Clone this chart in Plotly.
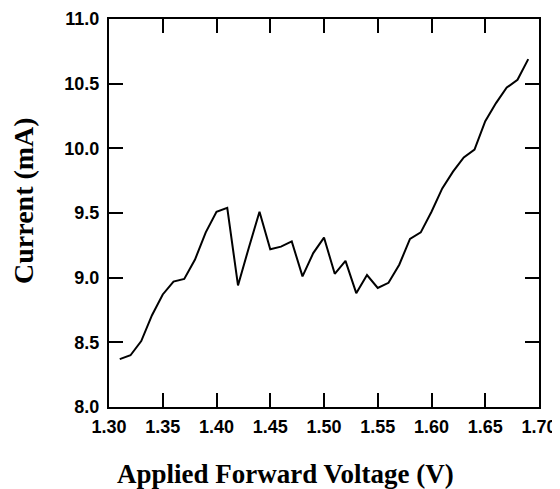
import plotly.graph_objects as go

voltage = [1.31, 1.32, 1.33, 1.34, 1.35, 1.36, 1.37, 1.38, 1.39, 1.40,
           1.41, 1.42, 1.43, 1.44, 1.45, 1.46, 1.47, 1.48, 1.49, 1.50,
           1.51, 1.52, 1.53, 1.54, 1.55, 1.56, 1.57, 1.58, 1.59, 1.60,
           1.61, 1.62, 1.63, 1.64, 1.65, 1.66, 1.67, 1.68, 1.69]
current = [8.37, 8.40, 8.51, 8.71, 8.87, 8.97, 8.99, 9.14, 9.35, 9.51,
           9.54, 8.94, 9.23, 9.51, 9.22, 9.24, 9.28, 9.01, 9.19, 9.31,
           9.03, 9.13, 8.88, 9.02, 8.92, 8.96, 9.10, 9.30, 9.35, 9.51,
           9.69, 9.82, 9.93, 9.99, 10.21, 10.35, 10.47, 10.53, 10.69]

x_ticks = [1.30, 1.35, 1.40, 1.45, 1.50, 1.55, 1.60, 1.65, 1.70]
x_labels = ["1.30", "1.35", "1.40", "1.45", "1.50", "1.55", "1.60", "1.65", "1.70"]
y_ticks = [8.0, 8.5, 9.0, 9.5, 10.0, 10.5, 11.0]
y_labels = ["8.0", "8.5", "9.0", "9.5", "10.0", "10.5", "11.0"]

# the page body has an 8px margin, so the figure is sized/placed accordingly
fig = go.Figure()
fig.add_trace(go.Scatter(x=voltage, y=current, mode="lines",
                         line=dict(color="black", width=2), showlegend=False))

tickfont = dict(family="Arial, Liberation Sans, sans-serif", size=18, color="black")
axis_common = dict(showgrid=False, zeroline=False, showline=True, linecolor="black",
                   linewidth=2, mirror="ticks", ticks="inside", ticklen=14, tickwidth=2,
                   tickcolor="black", tickfont=tickfont)

fig.update_xaxes(range=[1.30, 1.70], tickvals=x_ticks,
                 ticktext=["<b>%s</b>" % t for t in x_labels],
                 ticklabelstandoff=2, **axis_common)
fig.update_yaxes(range=[8.0, 11.0], tickvals=y_ticks,
                 ticktext=["<b>%s</b>" % t for t in y_labels],
                 ticklabelstandoff=4, **axis_common)

serif = "Times New Roman, Liberation Serif, serif"
fig.add_annotation(text="<b>Applied Forward Voltage (V)</b>", xref="paper", yref="paper",
                   x=(285 - 109) / 430, y=-(474 - 407) / 388, xanchor="center", yanchor="middle",
                   showarrow=False, font=dict(family=serif, size=27, color="black"))
fig.add_annotation(text="<b>Current (mA)</b>", xref="paper", yref="paper",
                   x=-(109 - 23) / 430, y=(407 - 201) / 388, xanchor="center", yanchor="middle",
                   textangle=-90, showarrow=False,
                   font=dict(family=serif, size=28, color="black"))
fig.add_annotation(text="<b>(b)</b>", xref="paper", yref="paper",
                   x=(322 - 109) / 430, y=-(485 - 407) / 388, xanchor="center", yanchor="top",
                   showarrow=False, font=dict(family=serif, size=18, color="black"))

fig.update_layout(width=552, height=481, margin=dict(l=101, r=21, t=11, b=82, autoexpand=False),
                  paper_bgcolor="white", plot_bgcolor="white")

fig.write_html("out.html")
